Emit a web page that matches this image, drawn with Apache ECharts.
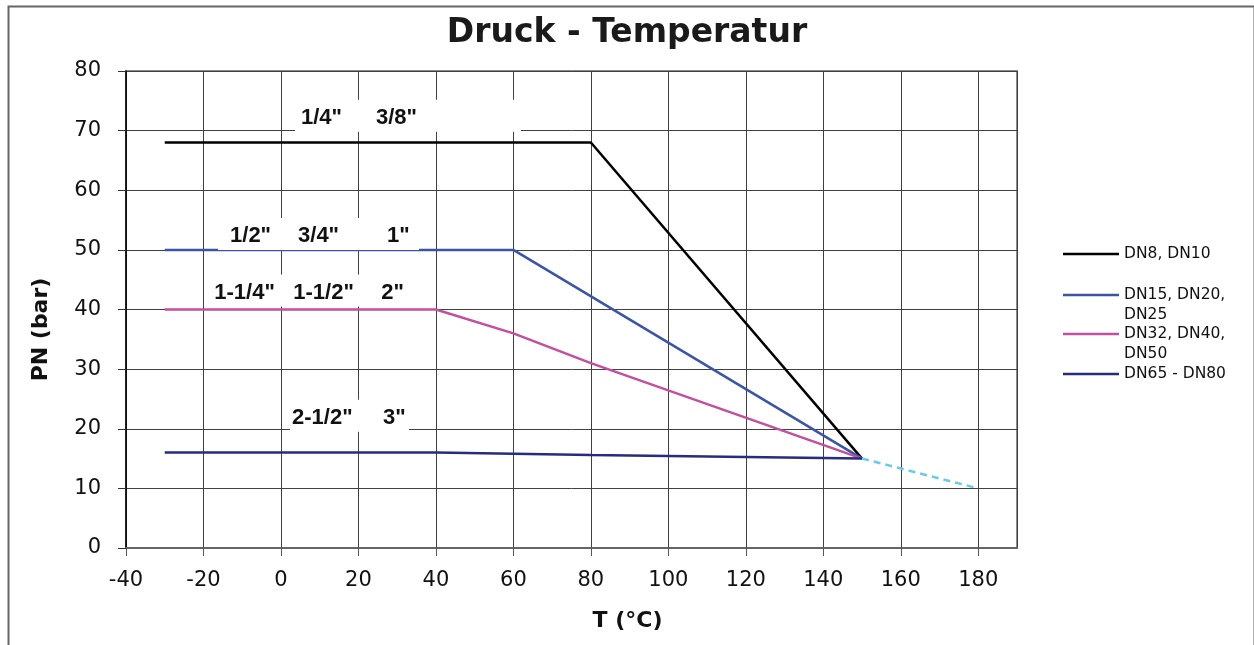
<!DOCTYPE html>
<html>
<head>
<meta charset="utf-8">
<script src="https://cdn.jsdelivr.net/npm/echarts@6/dist/echarts.min.js"></script>
<style>
  html, body { margin: 0; padding: 0; background: #fff; }
  #chart { width: 1254px; height: 645px; }
</style>
</head>
<body>
<div id="chart"></div>
<script>
// legend names
var seriesNames = ['DN8, DN10', 'DN15, DN20,\nDN25', 'DN32, DN40,\nDN50', 'DN65 - DN80'];

// T (°C) / PN (bar) per curve
var dn8Temp = [-30, 80, 150];
var dn8Pn = [68, 68, 15];
var dn15Temp = [-30, 60, 150];
var dn15Pn = [50, 50, 15];
var dn32Temp = [-30, 40, 60, 80, 150];
var dn32Pn = [40, 40, 36, 31, 15];
var dn65Temp = [-30, 40, 60, 80, 150];
var dn65Pn = [16, 16, 15.8, 15.6, 15];
var extTemp = [150, 180];
var extPn = [15, 10];

// thread sizes written above each curve
var sizeTexts = [
  ['1/4"', '3/8"'],
  ['1/2"', '3/4"', '1"'],
  ['1-1/4"', '1-1/2"', '2"'],
  ['2-1/2"', '3"']
];
// where each size row sits (T, PN) and how it is laid out
var sizeAnchor = [[32.8, 70], [9.7, 50], [7.3, 40], [17.7, 20]];
var sizeWidths = [[75, 145], [68, 89, 32], [79, 88, 31], [91, 26]];
var sizePadLeft = [6, 12, 8, 2];
var sizeDist = [-1, 0, 3, -3];

var colors = ['#000000', '#3b55a6', '#c24f9f', '#272d7c'];
var lineWidths = [2.5, 2.5, 2.5, 2.5];

function pairs(xs, ys) {
  return xs.map(function(x, i) { return [x, ys[i]]; });
}

var font = 'DejaVu Sans';

function sizeMark(row) {
  var rich = {};
  var str = '';
  sizeWidths[row].forEach(function(w, i) {
    rich['t' + i] = {
      width: w,
      align: 'left',
      fontFamily: 'Liberation Sans',
      fontWeight: 'bold',
      fontSize: 22,
      lineHeight: 26,
      color: '#111'
    };
    str += '{t' + i + '|' + sizeTexts[row][i] + '}';
  });
  return {
    silent: true,
    symbol: 'circle',
    symbolSize: 0,
    data: [{
      coord: sizeAnchor[row],
      label: {
        show: true,
        position: 'top',
        distance: sizeDist[row],
        backgroundColor: '#fff',
        padding: [5, 0, 1, sizePadLeft[row]],
        formatter: function() { return str; },
        rich: rich
      }
    }]
  };
}

var curves = [
  pairs(dn8Temp, dn8Pn),
  pairs(dn15Temp, dn15Pn),
  pairs(dn32Temp, dn32Pn),
  pairs(dn65Temp, dn65Pn)
];

var series = curves.map(function(d, i) {
  return {
    name: seriesNames[i],
    type: 'line',
    data: d,
    symbol: 'none',
    lineStyle: { color: colors[i], width: lineWidths[i] },
    itemStyle: { color: colors[i] },
    animation: false,
    markPoint: sizeMark(i)
  };
});
series.push({
  name: 'ext',
  type: 'line',
  data: pairs(extTemp, extPn),
  symbol: 'none',
  lineStyle: { color: '#6ccbe4', width: 2.5, type: [7, 5] },
  animation: false
});

var legendTops = [244, 265, 304, 364];
var legends = seriesNames.map(function(n, i) {
  var twoLine = n.indexOf('\n') >= 0;
  return {
    data: [n],
    left: 1063,
    top: legendTops[i],
    orient: 'vertical',
    padding: 0,
    icon: 'rect',
    itemWidth: 56,
    itemHeight: 2.5,
    selectedMode: false,
    formatter: function(name) { return twoLine ? ' \n' + name : name; },
    textStyle: {
      fontFamily: font,
      fontSize: 15.5,
      color: '#111',
      lineHeight: 20
    }
  };
});

var option = {
  backgroundColor: '#fff',
  animation: false,
  title: {
    text: 'Druck - Temperatur',
    left: 'center',
    top: 12,
    textStyle: { fontFamily: font, fontWeight: 'bold', fontSize: 33, color: '#1a1a1a' }
  },
  legend: legends,
  grid: {
    left: 126, right: 237, top: 71, bottom: 97,
    show: true,
    borderColor: '#8c8c8c',
    borderWidth: 2
  },
  xAxis: {
    type: 'value',
    min: -40,
    max: 190,
    interval: 20,
    name: 'T (°C)',
    nameLocation: 'middle',
    nameGap: 62,
    nameTextStyle: {
      fontFamily: font, fontWeight: 'bold', fontSize: 22, color: '#111',
      padding: [0, 0, 0, 112]
    },
    axisLine: { show: true, onZero: false, lineStyle: { color: '#666', width: 2 } },
    axisTick: { show: true, inside: false, length: 8, lineStyle: { color: '#555' } },
    axisLabel: {
      showMaxLabel: false,
      margin: 22,
      fontFamily: font, fontSize: 21, color: '#111'
    },
    splitLine: { show: true, lineStyle: { color: '#404040', width: 1 } }
  },
  yAxis: {
    type: 'value',
    min: 0,
    max: 80,
    interval: 10,
    name: 'PN (bar)',
    nameLocation: 'middle',
    nameGap: 74,
    nameTextStyle: {
      fontFamily: font, fontWeight: 'bold', fontSize: 22, color: '#111',
      padding: [0, 40, 0, 0]
    },
    axisLine: { show: true, onZero: false, lineStyle: { color: '#000', width: 1.5 } },
    axisTick: { show: true, inside: false, length: 8, lineStyle: { color: '#333' } },
    axisLabel: { margin: 25, fontFamily: font, fontSize: 21, color: '#111' },
    splitLine: { show: true, lineStyle: { color: '#404040', width: 1 } }
  },
  graphic: [{
    type: 'rect',
    left: 6,
    top: 4,
    shape: { width: 1246, height: 660 },
    style: { fill: 'none', stroke: '#666', lineWidth: 2 },
    silent: true,
    z: -1
  }],
  series: series
};

var chart = echarts.init(document.getElementById('chart'));
chart.setOption(option);
</script>
</body>
</html>
